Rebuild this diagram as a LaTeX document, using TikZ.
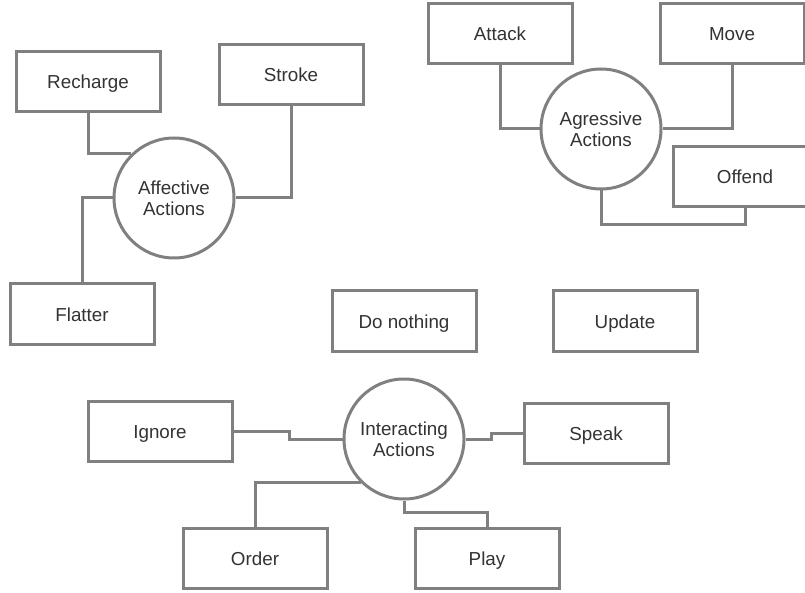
\documentclass[tikz,border=0pt]{standalone}
\usepackage{fontspec}
\setmainfont{Liberation Sans}
\definecolor{edge}{HTML}{808080}
\definecolor{ink}{HTML}{333333}
\tikzset{
  action/.style={draw=edge, line width=3pt, fill=white, minimum width=144pt,
    minimum height=60pt, inner sep=0pt, text=ink, text height=14pt, text depth=0pt,
    font=\fontsize{18.8}{21}\selectfont},
  group/.style={circle, draw=edge, line width=3pt, fill=white, minimum size=120pt,
    inner sep=0pt, text=ink, align=center, font=\fontsize{18.8}{21}\selectfont},
  link/.style={draw=edge, line width=3pt}
}
\begin{document}
\begin{tikzpicture}[x=1pt, y=-1pt]
\clip (0,0) rectangle (805,593);
\fill[white] (0,0) rectangle (805,593);

% affective group
\node[action] (recharge) at (88,82) {Recharge};
\node[action] (stroke) at (291,75) {Stroke};
\node[action] (flatter) at (82,314) {Flatter};
\node[group] (aff) at (174,198) {Affective\\Actions};

% aggressive group
\node[action] (attack) at (500,34) {Attack};
\node[action] (move) at (732,34) {Move};
\node[action] (offend) at (745,177) {Offend};
\node[group] (agr) at (601,129) {Agressive\\Actions};

% standalone actions
\node[action] (nothing) at (404,321) {Do nothing};
\node[action] (update) at (625,321) {Update};

% interacting group
\node[action] (ignore) at (160,431) {Ignore};
\node[action] (speak) at (596,433) {Speak};
\node[action] (order) at (255,558) {Order};
\node[action] (play) at (487,558) {Play};
\node[group] (inter) at (404,439) {Interacting\\Actions};

% connectors
\draw[link] (recharge.south) |- (aff.134);
\draw[link] (stroke.south) |- (aff.east);
\draw[link] (flatter.north) |- (aff.west);

\draw[link] (attack.south) |- (agr.west);
\draw[link] (move.south) |- (agr.east);
\draw[link] (offend.south) -- ++(0,16) -| (agr.south);

\draw[link] (ignore.east) -- ++(56,0) |- (inter.west);
\draw[link] (speak.west) -- ++(-31,0) |- (inter.east);
\draw[link] (order.north) |- (inter.225);
\draw[link] (play.north) -- ++(0,-14) -| (inter.south);
\end{tikzpicture}
\end{document}
